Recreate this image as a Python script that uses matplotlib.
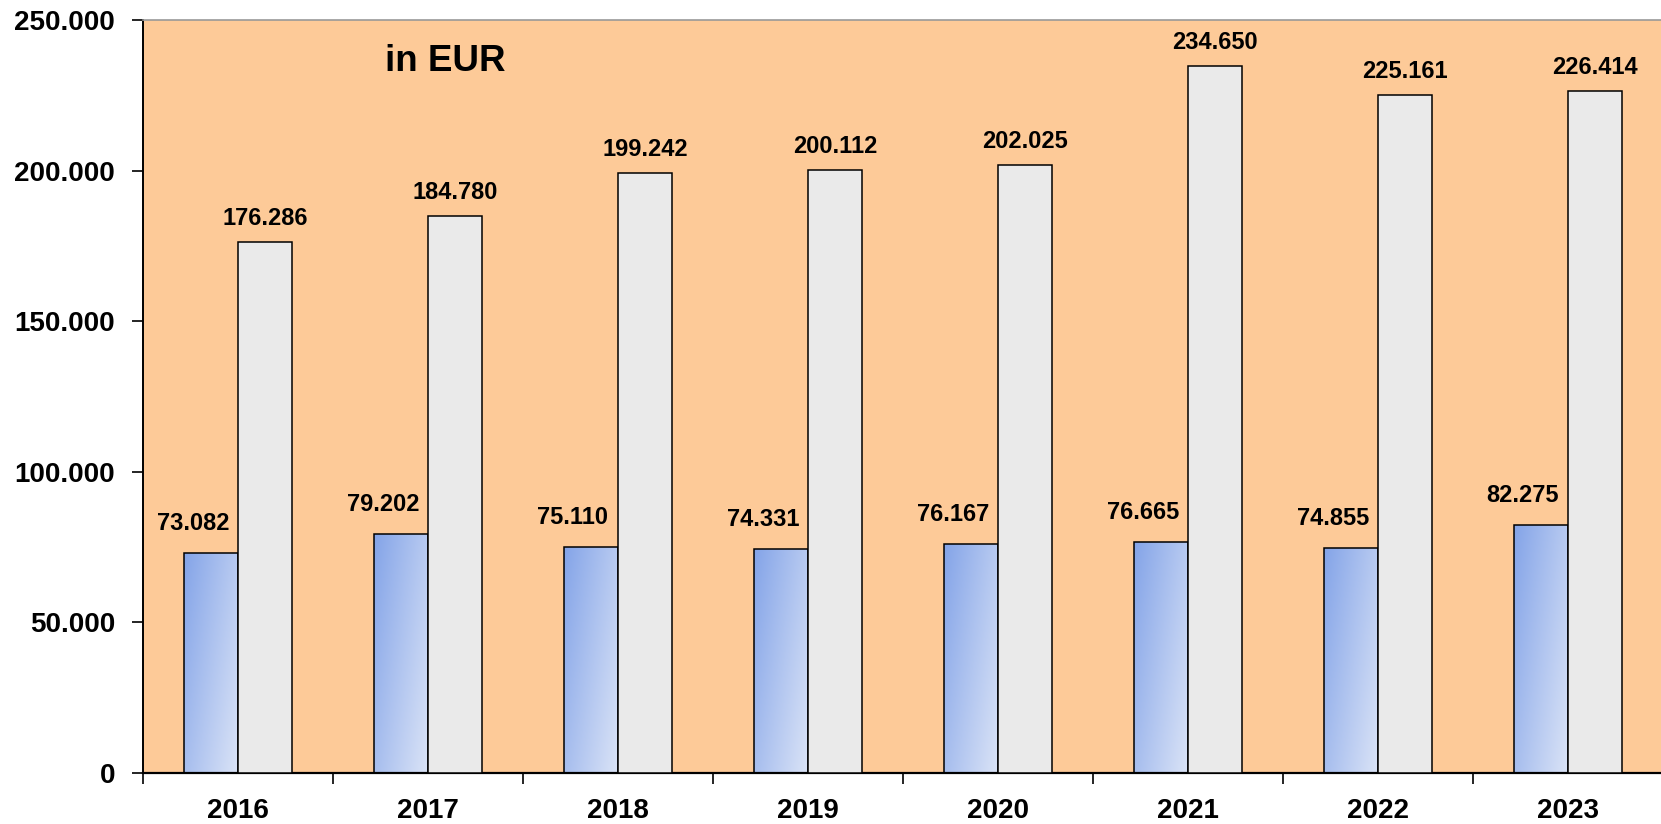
import matplotlib
matplotlib.use("Agg")
import matplotlib.pyplot as plt
import numpy as np
from matplotlib.ticker import FuncFormatter, FixedLocator

years = ["2016", "2017", "2018", "2019", "2020", "2021", "2022", "2023"]
blue_vals = [73082, 79202, 75110, 74331, 76167, 76665, 74855, 82275]
grey_vals = [176286, 184780, 199242, 200112, 202025, 234650, 225161, 226414]

plt.rcParams['font.family'] = ['Liberation Sans', 'DejaVu Sans']
plt.rcParams['font.weight'] = 'bold'

W, H = 1661, 824
fig = plt.figure(figsize=(W / 100, H / 100), dpi=100)
ax = fig.add_axes([143 / W, 51 / H, 1520 / W, 753 / H])
ax.set_facecolor('#fdca98')

x = np.arange(len(years))
bw = 0.285

blue_bars = ax.bar(x - bw / 2, blue_vals, bw, color='none', edgecolor='black', linewidth=1.1, zorder=3)
grey_bars = ax.bar(x + bw / 2, grey_vals, bw, color='#eaeaea', edgecolor='black', linewidth=1.1, zorder=3)

# diagonal gradient fill for the blue bars
gy, gx = np.mgrid[0:1:100j, 0:1:100j]
grad = gx * 0.6 + gy * 0.4
cmap = matplotlib.colors.LinearSegmentedColormap.from_list('b', ['#84a4e8', '#dbe4f7'])
for b in blue_bars:
    x0, y0 = b.get_x(), b.get_y()
    im = ax.imshow(grad, cmap=cmap, extent=(x0, x0 + b.get_width(), y0, y0 + b.get_height()),
                   aspect='auto', origin='upper', zorder=2, interpolation='bilinear')
    im.set_clip_path(b)

fmt = lambda v: f"{v:,.0f}".replace(",", ".")

for b, v in zip(blue_bars, blue_vals):
    ax.annotate(fmt(v), (b.get_x() + b.get_width() / 2, v), xytext=(-18, 18),
                textcoords='offset pixels', ha='center', va='bottom', fontsize=17, fontweight='bold')
for b, v in zip(grey_bars, grey_vals):
    ax.annotate(fmt(v), (b.get_x() + b.get_width() / 2, v), xytext=(0, 12),
                textcoords='offset pixels', ha='center', va='bottom', fontsize=17, fontweight='bold')

ax.text(0.159, 0.945, "in EUR", transform=ax.transAxes, fontsize=26.5,
        fontweight='bold', va='center', ha='left')

ax.set_xlim(-0.5, len(years) - 0.5)
ax.set_ylim(0, 250000)
ax.set_yticks(np.arange(0, 250001, 50000))
ax.yaxis.set_major_formatter(FuncFormatter(lambda v, p: fmt(v)))
ax.tick_params(axis='y', direction='out', length=8, width=1.2, labelsize=20, pad=12)

ax.xaxis.set_major_locator(FixedLocator(np.arange(-0.5, len(years), 1.0)))
ax.xaxis.set_major_formatter(FuncFormatter(lambda v, p: ""))
ax.xaxis.set_minor_locator(FixedLocator(x))
ax.set_xticklabels(years, minor=True)
ax.tick_params(axis='x', which='major', direction='out', length=8, width=1.2)
ax.tick_params(axis='x', which='minor', length=0, labelsize=20, pad=18)

for lbl in ax.get_yticklabels() + ax.get_xticklabels(minor=True):
    lbl.set_fontweight('bold')

ax.spines['top'].set_color('#999999')
ax.spines['top'].set_linewidth(1.2)
ax.spines['right'].set_visible(False)
ax.spines['left'].set_linewidth(1.4)
ax.spines['bottom'].set_linewidth(1.6)

fig.savefig('out.png', dpi=100)
